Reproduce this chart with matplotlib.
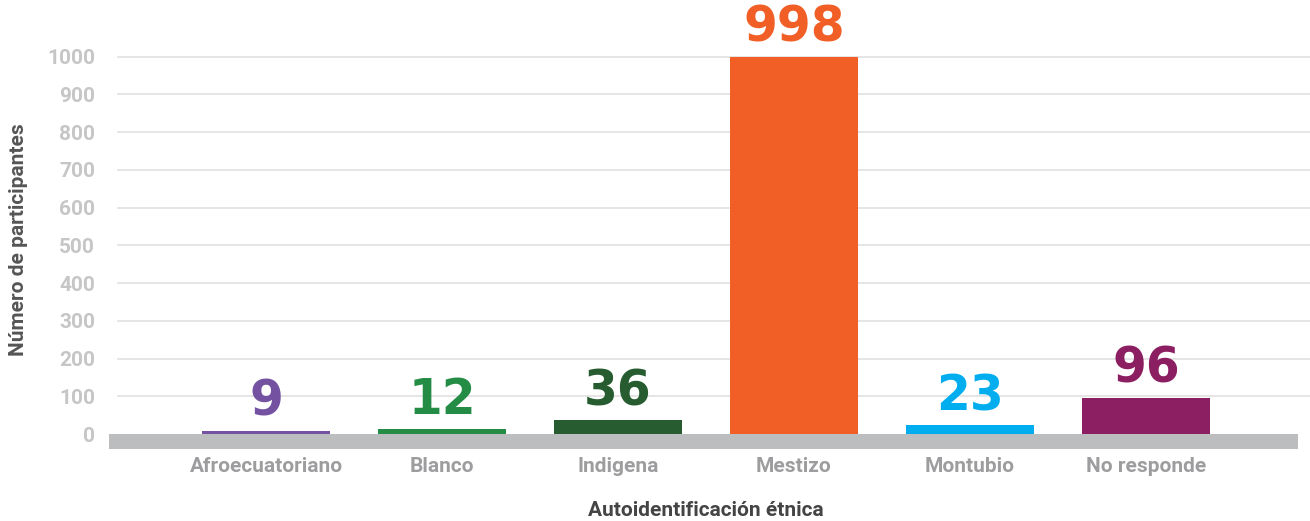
import matplotlib
matplotlib.use("Agg")
import matplotlib.pyplot as plt
from matplotlib.patches import Rectangle

categories = ["Afroecuatoriano", "Blanco", "Indigena", "Mestizo", "Montubio", "No responde"]
values = [9, 12, 36, 998, 23, 96]
colors = ["#7452A1", "#248C45", "#265C30", "#F15F26", "#00AEEF", "#8C1E62"]
yticks = [0, 100, 200, 300, 400, 500, 600, 700, 800, 900, 1000]

W, H = 1310, 521
fig = plt.figure(figsize=(W / 100, H / 100), dpi=100)
ax_left, ax_bottom = 109 / W, 72 / H
ax = fig.add_axes([ax_left, ax_bottom, 1 - ax_left, 1 - ax_bottom])

ymin, ymax = -39.7, 1149.7
ax.set_ylim(ymin, ymax)
xmin, xmax = -0.892, 5.932
ax.set_xlim(xmin, xmax)

# gridlines
for t in yticks[1:]:
    ax.plot([-0.84, xmax], [t, t], color="#E3E3E3", lw=1.3, zorder=1, clip_on=False)

x = list(range(len(categories)))
ax.bar(x, values, width=0.73, color=colors, zorder=2)

# gray baseline band
ax.add_patch(Rectangle((xmin, ymin), 5.864 - xmin, -ymin, facecolor="#BCBDBF",
                       edgecolor="none", zorder=3))

for xi, v, c in zip(x, values, colors):
    ax.annotate(str(v), (xi, v), xytext=(0, 11), textcoords="offset points",
                ha="center", va="baseline", fontsize=35, fontweight="bold",
                color=c, family="DejaVu Sans")

ax.set_yticks(yticks)
ax.set_yticklabels([str(t) for t in yticks], fontsize=15, fontweight="bold",
                   color="#C6C6C6", family="Roboto")
ax.set_xticks(x)
ax.set_xticklabels(categories, fontsize=15, fontweight="bold", color="#9D9D9F",
                   family="Roboto")
ax.tick_params(axis="both", length=0)
ax.tick_params(axis="x", pad=6)
ax.tick_params(axis="y", pad=10)
for s in ax.spines.values():
    s.set_visible(False)

fig.text(19 / W, 1 - 240 / H, "Número de participantes", rotation=90,
         ha="center", va="center", fontsize=15, fontweight="bold",
         color="#555555", family="Roboto")
fig.text(706 / W, 1 - 511 / H, "Autoidentificación étnica", ha="center",
         va="center", fontsize=15, fontweight="bold", color="#444444",
         family="Roboto")

fig.savefig("out.png", dpi=100)
